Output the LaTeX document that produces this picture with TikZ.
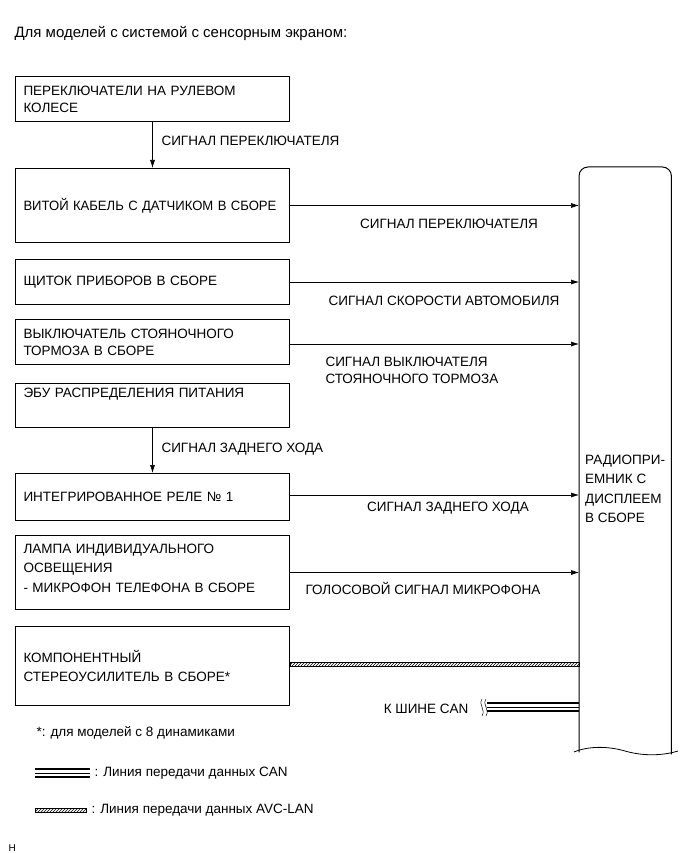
\documentclass[tikz,border=0pt]{standalone}
\usepackage{graphicx}
\usepackage{fontspec}
\setmainfont{Liberation Sans}
\usetikzlibrary{arrows.meta,patterns}

\begin{document}
\begin{tikzpicture}[x=1pt,y=-1pt,>={Latex[length=8pt,width=5pt]},
  font=\fontsize{13.5}{17}\selectfont,
  unit/.style={draw,line width=1pt,anchor=north west,minimum width=274pt,
    text width=258pt,inner xsep=8pt,align=left},
  sig/.style={line width=0.6pt,->},
  avc/.style={draw,line width=0.6pt,pattern=north east lines}]
 \useasboundingbox (0,0) rectangle (689,853);
 \node[anchor=west,font=\fontsize{15}{18}\selectfont] (title) at (11,33) {Для моделей с системой с сенсорным экраном:};

 \node[unit,minimum height=45pt] (wheelsw) at (15,76) {ПЕРЕКЛЮЧАТЕЛИ НА РУЛЕВОМ\\КОЛЕСЕ};
 \node[unit,minimum height=74pt] (spiral) at (15,168) {\scalebox{0.97}[1]{ВИТОЙ КАБЕЛЬ С ДАТЧИКОМ В СБОРЕ}};
 \node[unit,minimum height=45pt] (meter) at (15,259) {ЩИТОК ПРИБОРОВ В СБОРЕ};
 \node[unit,minimum height=45pt] (pkb) at (15,319) {ВЫКЛЮЧАТЕЛЬ СТОЯНОЧНОГО\\ТОРМОЗА В СБОРЕ};
 \node[unit,minimum height=44pt] (ecu) at (15,383) {ЭБУ РАСПРЕДЕЛЕНИЯ ПИТАНИЯ\\[9pt]~};
 \node[unit,minimum height=47pt] (relay) at (15,473) {ИНТЕГРИРОВАННОЕ РЕЛЕ № 1};
 \node[unit,minimum height=74pt] (mic) at (15,535) {ЛАМПА ИНДИВИДУАЛЬНОГО\\[2pt]ОСВЕЩЕНИЯ\\[3pt]- МИКРОФОН ТЕЛЕФОНА В СБОРЕ\\[-9pt]\mbox{}};
 \node[unit,minimum height=79pt] (amp) at (15,626) {КОМПОНЕНТНЫЙ\\[2pt]СТЕРЕОУСИЛИТЕЛЬ В СБОРЕ*};

 % radio receiver
 \node[anchor=north west,minimum width=92pt,minimum height=585pt,inner sep=0pt] (radio) at (579,167) {};
 \draw[line width=1pt] (radio.south west) -- ([yshift=-9pt]radio.north west)
   arc[start angle=180,end angle=90,radius=9pt] -- ([xshift=-9pt]radio.north east)
   arc[start angle=90,end angle=0,radius=9pt] -- ([yshift=-2pt]radio.south east);
 \draw[line width=0.8pt] (574,752) .. controls (588,746) and (608,746) .. (625,751)
   .. controls (642,756) and (662,756) .. (678,751);
 \node[anchor=west,align=left,inner sep=0pt,font=\fontsize{13.5}{19.5}\selectfont] (radiotxt) at (585,489) {РАДИОПРИ-\\ЕМНИК С\\ДИСПЛЕЕМ\\В СБОРЕ};

 \draw[sig] (wheelsw) -- (spiral);
 \node[anchor=west] (sw1) at (158,141) {СИГНАЛ ПЕРЕКЛЮЧАТЕЛЯ};
 \draw[sig] (ecu) -- (relay);
 \node[anchor=west] (rev1) at (158,449) {СИГНАЛ ЗАДНЕГО ХОДА};

 \draw[sig] (spiral.east) -- (spiral.east -| radio.west);
 \node (sw2) at (449,224) {СИГНАЛ ПЕРЕКЛЮЧАТЕЛЯ};
 \draw[sig] (meter.east) -- (meter.east -| radio.west);
 \node (spd) at (444,301) {СИГНАЛ СКОРОСТИ АВТОМОБИЛЯ};
 \draw[sig] ([yshift=-2pt]pkb.east) -- ([yshift=-2pt]pkb.east -| radio.west);
 \node[anchor=west,align=left] (brk) at (322,370) {СИГНАЛ ВЫКЛЮЧАТЕЛЯ\\СТОЯНОЧНОГО ТОРМОЗА};
 \draw[sig] ([yshift=2pt]relay.east) -- ([yshift=2pt]relay.east -| radio.west);
 \node (rev2) at (448,508) {СИГНАЛ ЗАДНЕГО ХОДА};
 \draw[sig] (mic.east) -- (mic.east -| radio.west);
 \node[anchor=west] (voice) at (302,588) {ГОЛОСОВОЙ СИГНАЛ МИКРОФОНА};

 % AVC-LAN
 \path[avc] ([yshift=-1pt]amp.north east |- 0,661) rectangle (radio.west |- 0,666);

 % CAN
 \coordinate (can) at (487,707);
 \node[anchor=east] (cantxt) at (472,709) {К ШИНЕ CAN};
 \draw[line width=1.4pt] ([yshift=-4pt]can) -- ([yshift=-4pt]can -| radio.west);
 \draw[line width=0.6pt] (can) -- (can -| radio.west);
 \draw[line width=1.4pt] ([yshift=4pt]can) -- ([yshift=4pt]can -| radio.west);
 \draw[line width=0.5pt] (482,699) .. controls (478,705) and (486,709) .. (482,716);
 \draw[line width=0.5pt] (486,699) .. controls (482,705) and (490,709) .. (486,716);

 \node[anchor=west] (note) at (33,733) {*: для моделей с 8 динамиками};

 % legend
 \coordinate (lcan) at (35,773);
 \draw[line width=1.4pt] ([yshift=-4pt]lcan) -- +(55,0);
 \draw[line width=0.6pt] (lcan) -- +(55,0);
 \draw[line width=1.4pt] ([yshift=4pt]lcan) -- +(55,0);
 \node[anchor=west] (lcantxt) at (91,773) {: Линия передачи данных CAN};
 \path[avc] (35,808) rectangle (86,812);
 \node[anchor=west] (lavctxt) at (88,810) {: Линия передачи данных AVC-LAN};

 \node[anchor=west,font=\fontsize{10}{11}\selectfont] (code) at (5,848) {H};
\end{tikzpicture}
\end{document}
